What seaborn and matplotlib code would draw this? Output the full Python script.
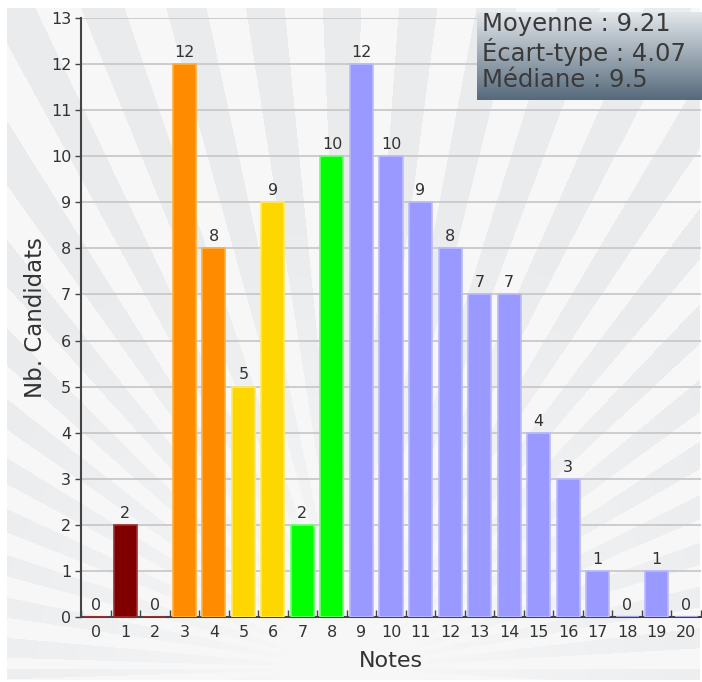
import numpy as np
import pandas as pd
import matplotlib
matplotlib.use("Agg")
import matplotlib.pyplot as plt
import seaborn as sns
from matplotlib.ticker import MultipleLocator, FixedLocator

# ---- data ----
notes = [str(i) for i in range(21)]
counts = [0, 2, 0, 12, 8, 5, 9, 2, 10, 12, 10, 9, 8, 7, 7, 4, 3, 1, 0, 1, 0]
bar_colors = ["#800000", "#800000", "#800000", "#FF8C00", "#FF8C00", "#FFD700", "#FFD700",
              "#00FF00", "#00FF00"] + ["#9999FF"] * 12
edge_colors = ["#a03030", "#a03030", "#a03030", "#FFB040", "#FFB040", "#FFEA60", "#FFEA60",
               "#70FF70", "#70FF70"] + ["#BBBBFF"] * 12
stats_lines = ["Moyenne : 9.21", "Écart-type : 4.07", "Médiane : 9.5"]
x_label = "Notes"
y_label = "Nb. Candidats"

sns.set_theme(style="white")
plt.rcParams['font.family'] = ['DejaVu Sans']

W, H = 702, 682
fig = plt.figure(figsize=(W / 100, H / 100), dpi=100, facecolor="white")

# ---- sunburst background ----
bg = fig.add_axes([7 / W, 2 / H, 693 / W, 672 / H])
bw, bh = 693, 672
yy, xx = np.mgrid[0:bh, 0:bw]
xc, yc = 343, 660  # center in bg pixel coords (y from top)
theta = np.arctan2(yc - yy, xx - xc)
r = np.hypot(xx - xc, yy - yc)
step = np.deg2rad(3.3)
stripe = (np.floor(theta / step) % 2).astype(float)
contrast = np.clip((r - 60) / 420, 0, 1) ** 0.8
light = np.array([247, 247, 247]) / 255
gray = np.array([233, 235, 237]) / 255
img = light[None, None, :] + (stripe * contrast)[:, :, None] * (gray - light)[None, None, :]
bg.imshow(img, aspect="auto", extent=[0, 1, 0, 1], interpolation="bilinear")
bg.set_axis_off()

# ---- main axes ----
ax = fig.add_axes([81 / W, 1 - 617 / H, (701 - 81) / W, (617 - 18) / H])
ax.patch.set_alpha(0)
df = pd.DataFrame({"note": notes, "count": counts})
sns.barplot(data=df, x="note", y="count", hue="note", order=notes, hue_order=notes,
            palette=bar_colors, legend=False, width=0.78, ax=ax, saturation=1, zorder=3)
for p in ax.patches:
    idx = int(round(p.get_x() + p.get_width() / 2))
    p.set_edgecolor(edge_colors[idx])
    p.set_linewidth(1.2)

for c in ax.containers:
    ax.bar_label(c, padding=3, fontsize=11.5, color="#333333")

ax.set_xlim(-0.5, 20.5)
ax.set_ylim(0, 13)
ax.yaxis.set_major_locator(MultipleLocator(1))
ax.grid(axis="y", color="#c9c9c9", linewidth=1.3, zorder=0)
ax.set_axisbelow(True)
for s in ["top", "right"]:
    ax.spines[s].set_visible(False)
for s in ["left", "bottom"]:
    ax.spines[s].set_color("#444444")
    ax.spines[s].set_linewidth(1.5)
ax.tick_params(axis="y", direction="out", length=4, width=1, color="#444444",
               labelsize=11.5, labelcolor="#333333", pad=3, left=True)
ax.tick_params(axis="x", which="major", length=0, labelsize=11.5, labelcolor="#333333", pad=6)
ax.xaxis.set_minor_locator(FixedLocator(np.arange(-0.5, 21, 1)))
ax.tick_params(axis="x", which="minor", direction="in", length=5, width=1, color="#444444",
               bottom=True)
ax.set_xlabel(x_label, fontsize=16, color="#333333", labelpad=8)
ax.set_ylabel(y_label, fontsize=16.5, color="#333333", labelpad=3)

# ---- stats box ----
bx = fig.add_axes([477 / W, 1 - 100 / H, (702 - 477) / W, 88 / H])
grad = np.linspace(0, 1, 100)[:, None]
top = np.array([226, 230, 234]) / 255
bot = np.array([86, 106, 124]) / 255
gimg = top[None, None, :] * (1 - grad[:, :, None]) + bot[None, None, :] * grad[:, :, None]
gimg = np.repeat(gimg, 2, axis=1)
bx.imshow(gimg, aspect="auto", extent=[0, 1, 0, 1])
bx.set_axis_off()
for k, line in enumerate(stats_lines):
    bx.text(0.02, 0.86 - k * 0.315, line, transform=bx.transAxes, fontsize=17.5,
            color="#3a3a3a", va="center", ha="left")

fig.savefig("out.png", dpi=100, facecolor="white")
